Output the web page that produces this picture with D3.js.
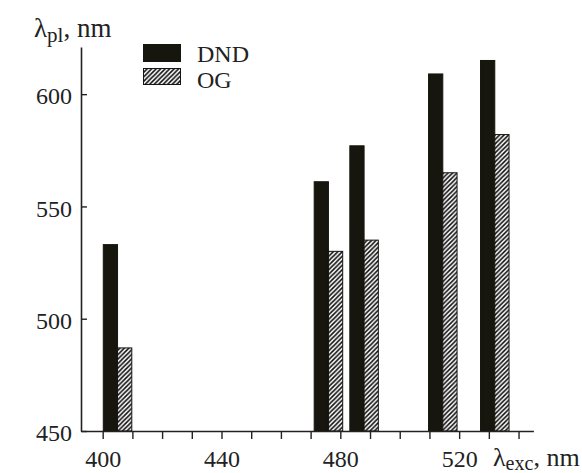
<!DOCTYPE html>
<html><head><meta charset="utf-8">
<script src="https://cdn.jsdelivr.net/npm/d3@7"></script>
<style>
html,body{margin:0;padding:0;background:#fff;}
svg{display:block;}
text{font-family:"Liberation Serif","DejaVu Serif",serif;fill:#222;}
</style></head>
<body>
<script>
const excitation = [405, 476, 488, 514.5, 532];
const dndValues = [533, 561, 577, 609, 615];
const ogValues  = [487, 530, 535, 565, 582];
const seriesNames = ["DND", "OG"];
const xTickValues = [400,410,420,430,440,450,460,470,480,490,500,510,520,530,540];
const xTickLabels = [400, 440, 480, 520];
const yTickValues = [450, 500, 550, 600];

const W = 582, H = 473;
const svg = d3.select("body").append("svg").attr("width", W).attr("height", H);

const defs = svg.append("defs");
const pat = defs.append("pattern").attr("id","hatch").attr("patternUnits","userSpaceOnUse")
  .attr("width",4.5).attr("height",4.5);
pat.append("rect").attr("width",4.5).attr("height",4.5).attr("fill","#fff");
pat.append("path").attr("d","M-1,1 l2,-2 M0,4.5 l4.5,-4.5 M3.5,5.5 l2,-2")
  .attr("stroke","#111").attr("stroke-width",1.6);

const x = d3.scaleLinear().domain([392.7, 545]).range([81, 533.4]);
const y = d3.scaleLinear().domain([450, 621]).range([431, 47]);
const halfW = 4.8;

const g = svg.append("g");
g.selectAll("rect.dnd").data(excitation).enter().append("rect").attr("class","dnd")
  .attr("x", d => x(d - halfW)).attr("width", d => x(d) - x(d - halfW))
  .attr("y", (d,i) => y(dndValues[i])).attr("height", (d,i) => y(450) - y(dndValues[i]))
  .attr("fill", "#16160f").attr("stroke","#16160f").attr("stroke-width",1);
g.selectAll("rect.og").data(excitation).enter().append("rect").attr("class","og")
  .attr("x", d => x(d)).attr("width", d => x(d + halfW) - x(d))
  .attr("y", (d,i) => y(ogValues[i])).attr("height", (d,i) => y(450) - y(ogValues[i]))
  .attr("fill", "url(#hatch)").attr("stroke","#16160f").attr("stroke-width",1);

const xAxis = d3.axisBottom(x).tickValues(xTickValues)
  .tickFormat(d => xTickLabels.includes(d) ? d : "")
  .tickSizeInner(8).tickSizeOuter(0).tickPadding(11);
const gx = svg.append("g").attr("transform","translate(0,431)").call(xAxis);
gx.select(".domain").attr("stroke","#222").attr("stroke-width",1.6);
gx.selectAll(".tick line").attr("stroke","#222").attr("stroke-width",1.4);
gx.selectAll(".tick text").attr("font-size",24).attr("font-family","Liberation Serif").attr("fill","#222");

const yAxis = d3.axisLeft(y).tickValues(yTickValues)
  .tickSizeInner(-6).tickSizeOuter(0).tickPadding(9);
const gy = svg.append("g").attr("transform","translate(81,0)").call(yAxis);
gy.select(".domain").attr("stroke","#222").attr("stroke-width",1.6);
gy.selectAll(".tick line").attr("stroke","#222").attr("stroke-width",1.4);
gy.selectAll(".tick text").attr("font-size",24).attr("font-family","Liberation Serif").attr("fill","#222").attr("dy","0.4em");

const yt = svg.append("text").attr("x",34).attr("y",37).attr("font-size",27);
yt.append("tspan").text("λ");
yt.append("tspan").attr("font-size",21).attr("dy",5).text("pl");
yt.append("tspan").attr("dy",-5).text(", nm");

const xt = svg.append("text").attr("x",493).attr("y",466).attr("font-size",26);
xt.append("tspan").text("λ");
xt.append("tspan").attr("font-size",20).attr("dy",3.5).text("exc");
xt.append("tspan").attr("dy",-3.5).text(", nm");

const lg = svg.append("g");
lg.append("rect").attr("x",143.5).attr("y",44.5).attr("width",37).attr("height",17)
  .attr("fill","#16160f").attr("stroke","#16160f");
lg.append("rect").attr("x",143.5).attr("y",68.5).attr("width",37).attr("height",16)
  .attr("fill","url(#hatch)").attr("stroke","#16160f");
lg.append("text").attr("x",197).attr("y",62).attr("font-size",24).text(seriesNames[0]);
lg.append("text").attr("x",197).attr("y",88).attr("font-size",24).text(seriesNames[1]);
</script>
</body></html>
